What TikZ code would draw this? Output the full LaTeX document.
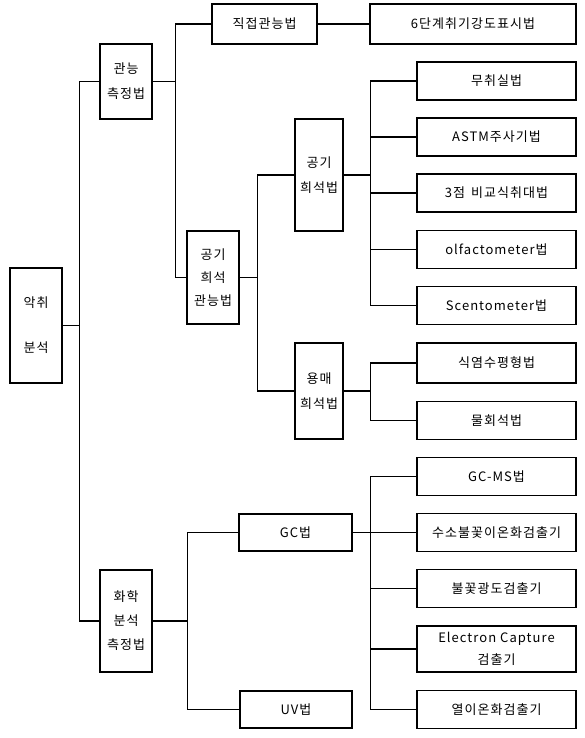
\documentclass[tikz,border=0pt]{standalone}
\usepackage{fontspec}
\setmainfont{Noto Sans CJK KR}[LetterSpace=8]
\usetikzlibrary{positioning}

\begin{document}
\begin{tikzpicture}[x=1pt, y=-1pt]
    \tikzstyle{box}  = [draw, line width=1.2pt, rectangle, align=center, inner sep=0pt, font=\fontsize{13pt}{25pt}\selectfont]
    \tikzstyle{mid}  = [box, minimum width=52pt]
    \tikzstyle{leaf} = [box, minimum width=159pt, minimum height=38pt]
    \tikzstyle{link} = [line width=1.2pt]

    \useasboundingbox (0,0) rectangle (584,738);

    % Root
    \node [mid, minimum height=115pt] (root) at (36,325.5) {악취\\[20pt]분석};

    % Second level
    \node [mid, minimum height=75pt] (sens) at (126,81.5) {관능\\측정법};
    \node [mid, minimum height=102pt] (chem) at (126,621) {화학\\[-1pt]분석\\[-1pt]측정법};

    % Sensory branch
    \node [box, minimum width=105pt, minimum height=40pt] (direct) at (264.5,24) {직접관능법};
    \node [box, minimum width=206pt, minimum height=40pt] (sixstep) at (473,24) {6단계취기강도표시법};
    \node [mid, minimum height=93pt] (airsens) at (213,277.5) {공기\\[-2pt]희석\\[-2pt]관능법};
    \node [mid, minimum width=48pt, minimum height=112pt] (airdil) at (319,175) {공기\\희석법};
    \node [mid, minimum width=48pt, minimum height=96pt] (solvdil) at (319,391) {용매\\희석법};

    \node [leaf] (odorless) at (496.5,81) {무취실법};
    \node [leaf] (astm) at (496.5,137) {ASTM주사기법};
    \node [leaf] (threept) at (496.5,193) {3점 \,비교식취대법};
    \node [leaf] (olfacto) at (496.5,249.5) {olfactometer법};
    \node [leaf] (scento) at (496.5,305.5) {Scentometer법};
    \node [leaf, minimum height=40pt] (saline) at (496.5,363) {식염수평형법};
    \node [leaf] (water) at (496.5,420.5) {물회석법};

    % Chemical branch
    \node [box, minimum width=113pt, minimum height=37pt] (gc) at (295.5,532.5) {GC법};
    \node [box, minimum width=112pt, minimum height=37pt] (uv) at (296,709.5) {UV법};

    \node [leaf] (gcms) at (496.5,476.5) {GC-MS법};
    \node [leaf] (fid) at (496.5,532.5) {수소불꽃이온화검출기};
    \node [leaf] (fpd) at (496.5,588.5) {불꽃광도검출기};
    \node [leaf, minimum height=46pt] (ecd) at (496.5,649) {Electron Capture\\[-3pt]검출기};
    \node [leaf] (tid) at (496.5,709.5) {열이온화검출기};

    % Connections
    \draw [link] (root.east) -- ++(17,0) |- (sens.west);
    \draw [link] (root.east) -- ++(17,0) |- (chem.west);

    \draw [link] (sens.east) -- ++(23,0) |- (direct.west);
    \draw [link] (sens.east) -- ++(23,0) |- (airsens.west);
    \draw [link] (direct) -- (sixstep);

    \draw [link] (airsens.east) -- ++(18,0) |- (airdil.west);
    \draw [link] (airsens.east) -- ++(18,0) |- (solvdil.west);

    \foreach \n in {odorless,astm,threept,olfacto,scento}
        \draw [link] (airdil.east) -- ++(27,0) |- (\n.west);
    \foreach \n in {saline,water}
        \draw [link] (solvdil.east) -- ++(27,0) |- (\n.west);

    \draw [link] (chem.east) -- ++(35,0) |- (gc.west);
    \draw [link] (chem.east) -- ++(35,0) |- (uv.west);

    \foreach \n in {gcms,fid,fpd,ecd,tid}
        \draw [link] (gc.east) -- ++(18,0) |- (\n.west);
\end{tikzpicture}
\end{document}
